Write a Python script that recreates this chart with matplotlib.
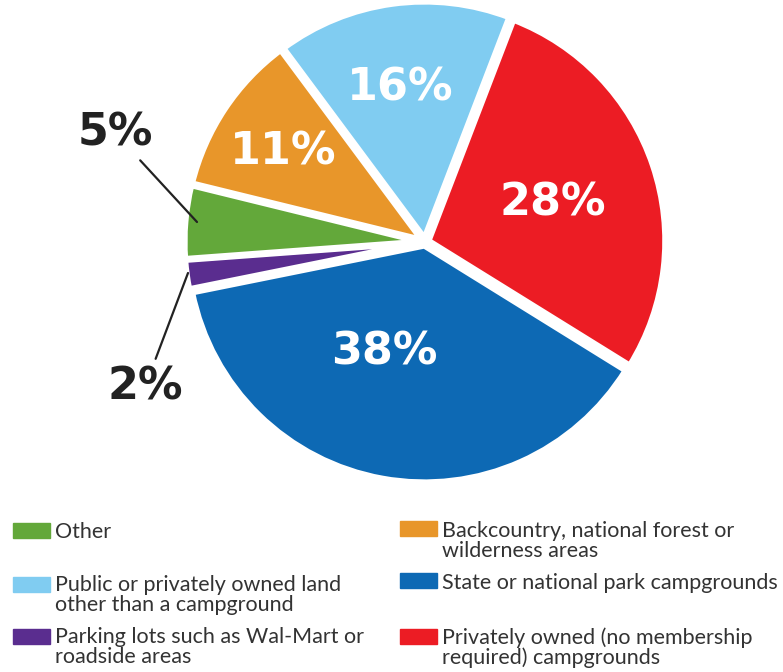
import matplotlib
matplotlib.use("Agg")
import matplotlib.pyplot as plt
from matplotlib.patches import Rectangle

# Share of campers by type of overnight location (percent)
categories = [
    "Privately owned (no membership\nrequired) campgrounds",
    "State or national park campgrounds",
    "Parking lots such as Wal-Mart or\nroadside areas",
    "Other",
    "Backcountry, national forest or\nwilderness areas",
    "Public or privately owned land\nother than a campground",
]
values = [28, 38, 2, 5, 11, 16]
colors = ["#EC1C24", "#0D69B4", "#5A2D8F", "#63A83A", "#E8962A", "#80CCF1"]

# legend layout: (category index, column, row)
legend_order = [(3, 0, 0), (5, 0, 1), (2, 0, 2), (4, 1, 0), (1, 1, 1), (0, 1, 2)]

W, H = 783, 672
fig = plt.figure(figsize=(W / 100, H / 100), dpi=100)

cx, cy, R = 425, 242, 237
ax = fig.add_axes([(cx - R) / W, (H - cy - R) / H, 2 * R / W, 2 * R / H])

wedges, _ = ax.pie(
    values,
    colors=colors,
    startangle=69,
    counterclock=False,
    explode=[0.015] * len(values),
    radius=1.0,
    wedgeprops=dict(edgecolor="white", linewidth=4.5),
)
ax.set_xlim(-1, 1)
ax.set_ylim(-1, 1)
ax.set_aspect("equal")
ax.axis("off")

pct_font = dict(family="DejaVu Sans", fontweight="bold", fontsize=32)

# inside labels (data coords)
inside_pos = {0: (0.54, 0.165), 1: (-0.17, -0.465), 4: (-0.60, 0.38), 5: (-0.105, 0.65)}
for i, (x, y) in inside_pos.items():
    ax.text(x, y, f"{values[i]}%", color="white", ha="center", va="center", **pct_font)

# outside labels with leader lines
def px(x, y):
    return ((x - cx) / R, (cy - y) / R)

ax.annotate(f"{values[3]}%", xy=px(197, 222), xytext=px(115, 133),
            ha="center", va="center", color="#222222", annotation_clip=False,
            arrowprops=dict(arrowstyle="-", color="#222222", lw=1.6,
                            shrinkA=3, shrinkB=0), **pct_font)
ax.annotate(f"{values[2]}%", xy=px(188, 273), xytext=px(145, 387),
            ha="center", va="center", color="#222222", annotation_clip=False,
            arrowprops=dict(arrowstyle="-", color="#222222", lw=1.6,
                            shrinkA=3, shrinkB=0), **pct_font)

# legend drawn manually in two columns
col_x = [13, 400]
text_dx = 42
swatch_cy = [[530, 584, 636], [528, 580, 636]]
text_base = [[538, 591, 643], [537, 589, 643]]
for idx, col, row in legend_order:
    x0 = col_x[col]
    yc = swatch_cy[col][row]
    fig.patches.append(Rectangle((x0 / W, (H - yc - 8) / H), 37 / W, 15 / H,
                                 transform=fig.transFigure, color=colors[idx]))
    top = text_base[col][row] - 16
    fig.text((x0 + text_dx) / W, (H - top) / H, categories[idx], ha="left", va="top",
             family="Lato", fontsize=15.5, color="#333333", linespacing=1.0)

fig.savefig("out.png", dpi=100, facecolor="white")
